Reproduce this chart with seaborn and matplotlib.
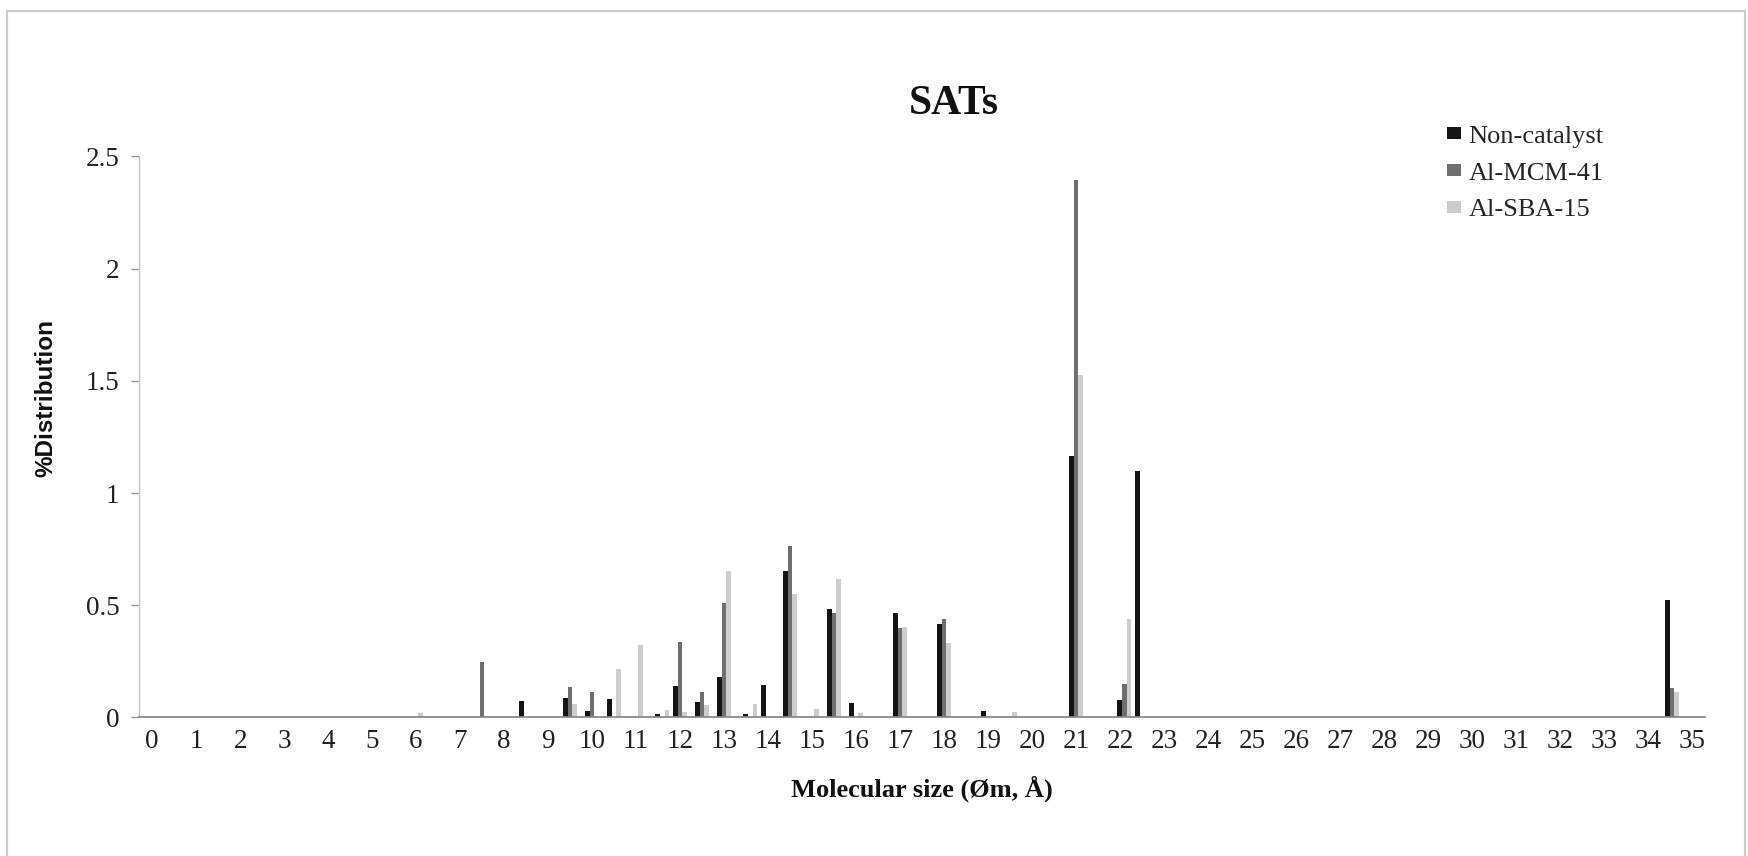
import matplotlib
matplotlib.use("Agg")
import matplotlib.pyplot as plt
from matplotlib.patches import Patch, Rectangle
from matplotlib.ticker import FuncFormatter
import seaborn as sns
import pandas as pd

# ---- data ----
sizes = [6.0, 7.5, 8.5, 9.5, 10.0, 10.5, 11.0, 11.6, 12.0, 12.5, 13.0, 13.6,
         14.0, 14.5, 15.0, 15.5, 16.0, 17.0, 18.0, 19.0, 19.5, 21.0, 22.1,
         22.5, 34.55]
non_catalyst = [0, 0, 0.075, 0.085, 0.03, 0.082, 0, 0.016, 0.14, 0.07, 0.179,
                0.016, 0.145, 0.654, 0, 0.482, 0.063, 0.464, 0.417, 0.03, 0,
                1.165, 0.078, 1.10, 0.525]
al_mcm_41 = [0, 0.249, 0, 0.135, 0.115, 0, 0, 0, 0.338, 0.114, 0.509, 0, 0,
             0.764, 0, 0.464, 0, 0.397, 0.439, 0, 0, 2.393, 0.148, 0, 0.13]
al_sba_15 = [0.02, 0, 0, 0.06, 0, 0.215, 0.323, 0.035, 0.025, 0.056, 0.655,
             0.06, 0, 0.55, 0.04, 0.616, 0.018, 0.405, 0.331, 0, 0.025, 1.527,
             0.437, 0, 0.115]
series_names = ["Non-catalyst", "Al-MCM-41", "Al-SBA-15"]
series_colors = ["#141414", "#6f6f6f", "#cdcdcd"]
x_ticks = list(range(0, 36))
y_ticks = [0, 0.5, 1, 1.5, 2, 2.5]

rows = []
for name, vals in zip(series_names, [non_catalyst, al_mcm_41, al_sba_15]):
    for s, v in zip(sizes, vals):
        rows.append({"size": s, "value": v, "series": name})
df = pd.DataFrame(rows)

sns.set_style("white")
plt.rcParams["font.family"] = ["Liberation Serif", "DejaVu Serif"]

fig = plt.figure(figsize=(17.48, 8.56), dpi=100)
ax = fig.add_axes([0.0795, 0.1618, 0.8959, 0.6554])

sns.barplot(data=df, x="size", y="value", hue="series", hue_order=series_names,
            palette=series_colors, native_scale=True, dodge=True, width=0.8,
            errorbar=None, linewidth=0, legend=False, ax=ax)

ax.set_xlim(-0.3, 35.3)
ax.set_ylim(0, 2.5)
ax.set_xticks(x_ticks)
ax.set_xticklabels([str(t) for t in x_ticks])
ax.set_yticks(y_ticks)
ax.yaxis.set_major_formatter(FuncFormatter(lambda v, p: f"{v:g}"))
ax.tick_params(axis="x", length=0, pad=8.5, labelsize=19.5, colors="#222222")
ax.tick_params(axis="y", length=6, width=1, direction="out", color="#9a9a9a",
               pad=8, labelsize=19.5, labelcolor="#222222", left=True)

for side in ["top", "right"]:
    ax.spines[side].set_visible(False)
ax.spines["left"].set_color("#c4c4c4")
ax.spines["left"].set_linewidth(1.0)
ax.spines["bottom"].set_color("#8a8a8a")
ax.spines["bottom"].set_linewidth(1.3)

ax.set_xlabel("Molecular size (Øm, Å)", fontsize=19, fontweight="bold",
              labelpad=15, color="#111111")
ax.set_ylabel("%Distribution", fontsize=17.5, fontweight="bold",
              family=["Liberation Sans", "DejaVu Sans"], color="#111111")
ax.yaxis.set_label_coords(-0.052, 0.57)
fig.text(0.5458, 0.879, "SATs", ha="center", va="center", fontsize=30,
         fontweight="bold", color="#111111")

handles = [Patch(facecolor=c, edgecolor="none", label=n)
           for n, c in zip(series_names, series_colors)]
ax.legend(handles=handles, loc="upper left", bbox_to_anchor=(0.828, 0.853),
          bbox_transform=fig.transFigure, frameon=False, fontsize=19,
          handlelength=0.5, handleheight=0.33, handletextpad=0.3,
          labelspacing=0.56, borderpad=0, borderaxespad=0)

fig.patches.append(Rectangle((7 / 1748, -0.01), (1745 - 7) / 1748,
                             (856 - 11) / 856 + 0.01, transform=fig.transFigure,
                             fill=False, edgecolor="#cccccc", linewidth=1.5))

fig.savefig("out.png", dpi=100)
